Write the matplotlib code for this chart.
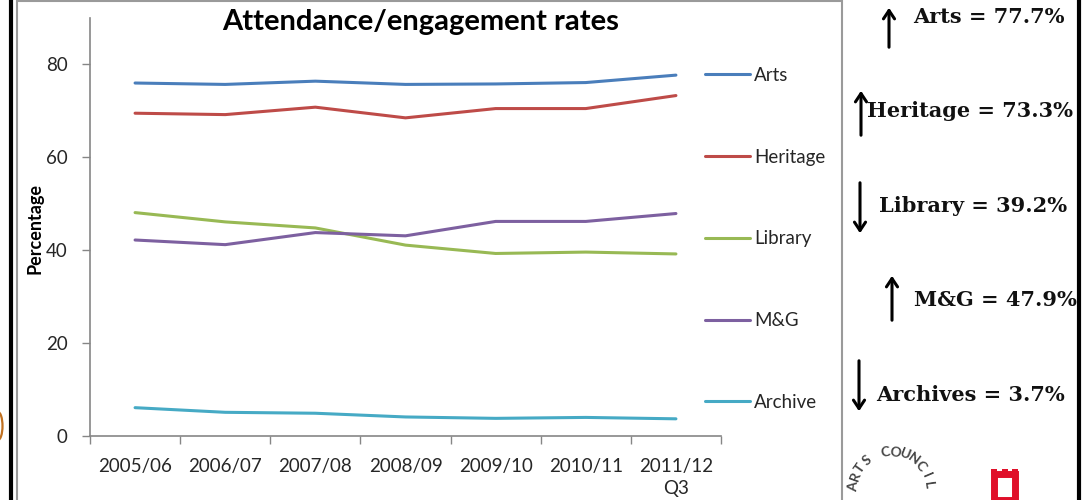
import numpy as np
import matplotlib
matplotlib.use("Agg")
import matplotlib.pyplot as plt
from matplotlib.patches import Rectangle, FancyArrowPatch, Arc
from matplotlib.lines import Line2D

plt.rcParams['font.family'] = ['Lato', 'DejaVu Sans']

# survey years and attendance / engagement rates (%)
years = ['2005/06', '2006/07', '2007/08', '2008/09', '2009/10', '2010/11', '2011/12\nQ3']
arts = [76.0, 75.7, 76.4, 75.7, 75.8, 76.1, 77.7]
heritage = [69.5, 69.2, 70.8, 68.5, 70.5, 70.5, 73.3]
library = [48.1, 46.1, 44.8, 41.1, 39.3, 39.6, 39.2]
mg = [42.2, 41.2, 43.8, 43.1, 46.2, 46.2, 47.9]
archive = [6.1, 5.1, 4.9, 4.1, 3.8, 4.0, 3.7]

series_names = ['Arts', 'Heritage', 'Library', 'M&G', 'Archive']
series_colors = ['#4a7ebb', '#be4b48', '#98b954', '#7d60a0', '#46aac5']

# headline figures shown to the right
summary_text = ['Arts = 77.7%', 'Heritage = 73.3%', 'Library = 39.2%',
                'M&G = 47.9%', 'Archives = 3.7%']
summary_dir = ['up', 'up', 'down', 'up', 'down']

W, H = 1086, 500
fig = plt.figure(figsize=(W / 100, H / 100), dpi=100)


def fx(px):
    return px / W


def fy(py):
    return 1 - py / H


ax = fig.add_axes([fx(90), fy(436), fx(721) - fx(90), fy(18) - fy(436)])

x = np.arange(len(years))
for vals, name, col in zip([arts, heritage, library, mg, archive], series_names, series_colors):
    ax.plot(x, vals, color=col, lw=2.2, label=name, solid_capstyle='round')

ax.set_xlim(-0.5, len(years) - 0.5)
ax.set_ylim(0, 90)
ax.set_yticks([0, 20, 40, 60, 80])
ax.set_xticks(x)
ax.set_xticklabels(years, linespacing=1.35)
ax.set_xticks(np.arange(-0.5, len(years)), minor=True)
ax.tick_params(axis='x', which='major', length=0, pad=16, labelsize=13.5, colors='#262626')
ax.tick_params(axis='x', which='minor', length=6, width=1, color='#868686')
ax.tick_params(axis='y', length=6, width=1, color='#868686', labelsize=13.5,
               labelcolor='#262626', pad=10)
for s in ['top', 'right']:
    ax.spines[s].set_visible(False)
for s in ['left', 'bottom']:
    ax.spines[s].set_color('#868686')
    ax.spines[s].set_linewidth(1.2)

fig.text(fx(222), fy(22), 'Attendance/engagement rates', fontsize=21, fontweight='bold',
         ha='left', va='center', color='#000000')
fig.text(fx(35), fy(228), 'Percentage', fontsize=13, fontweight='bold',
         rotation=90, ha='center', va='center')

leg = fig.legend(loc='upper left', bbox_to_anchor=(fx(705), fy(67)), frameon=False,
                 fontsize=13.5, labelspacing=3.45, handlelength=2.4, handletextpad=0.2,
                 borderpad=0, borderaxespad=0)
for t in leg.get_texts():
    t.set_color('#262626')

# chart area border and outer frame
fig.patches.append(Rectangle((fx(17), fy(560)), fx(842) - fx(17), fy(1) - fy(560),
                             transform=fig.transFigure, fill=False, ec='#9a9a9a', lw=1.5))
fig.lines.append(Line2D([fx(10.5), fx(10.5)], [0, 1], transform=fig.transFigure,
                        color='black', lw=3))
fig.lines.append(Line2D([fx(1078.5), fx(1078.5)], [0, 1], transform=fig.transFigure,
                        color='black', lw=3))
# edge of a neighbouring panel
fig.patches.append(Arc((fx(-2), fy(426)), fx(9), fy(412) - fy(440), theta1=-90, theta2=90,
                       transform=fig.transFigure, color='#c07020', lw=1.6))

# summary arrows with values
arrow_x = [889, 861, 860, 892, 859]
arrow_y = [(5, 50), (88, 138), (180, 236), (273, 323), (358, 414)]
text_x = [913, 867, 879, 914, 876]
text_y = [17, 111, 206, 300, 395]
for lbl, d, axp, (y0, y1), tx, ty in zip(summary_text, summary_dir, arrow_x, arrow_y, text_x, text_y):
    if d == 'up':
        start, end = (fx(axp), fy(y1)), (fx(axp), fy(y0))
    else:
        start, end = (fx(axp), fy(y0)), (fx(axp), fy(y1))
    fig.patches.append(FancyArrowPatch(start, end, transform=fig.transFigure,
                                       arrowstyle='->,head_length=6,head_width=4',
                                       color='black', lw=2.2, mutation_scale=1))
    fig.text(fx(tx), fy(ty), lbl, fontsize=15, fontweight='bold', family='DejaVu Serif',
             ha='left', va='center', color='#111111')

# Arts Council ring lettering
cx, cy, r = 891, 490, 38
ring = 'ARTS COUNCIL'
angles = np.linspace(175, 8, len(ring))
for ch, a in zip(ring, angles):
    t = np.deg2rad(a)
    fig.text(fx(cx + r * np.cos(t)), fy(cy - r * np.sin(t)), ch, fontsize=10,
             fontweight='bold', color='#444444', rotation=a - 90,
             ha='center', va='center')

# heritage logo
fig.patches.append(Rectangle((fx(994), fy(500)), fx(1015) - fx(994), fy(474) - fy(500),
                             transform=fig.transFigure, fill=False, ec='#e0102a', lw=5))
for bx in [994, 1004.5, 1015]:
    fig.patches.append(Rectangle((fx(bx - 3), fy(474)), fx(6), fy(469) - fy(474),
                                 transform=fig.transFigure, color='#e0102a', lw=0))

fig.savefig('out.png', dpi=100, facecolor='white')
